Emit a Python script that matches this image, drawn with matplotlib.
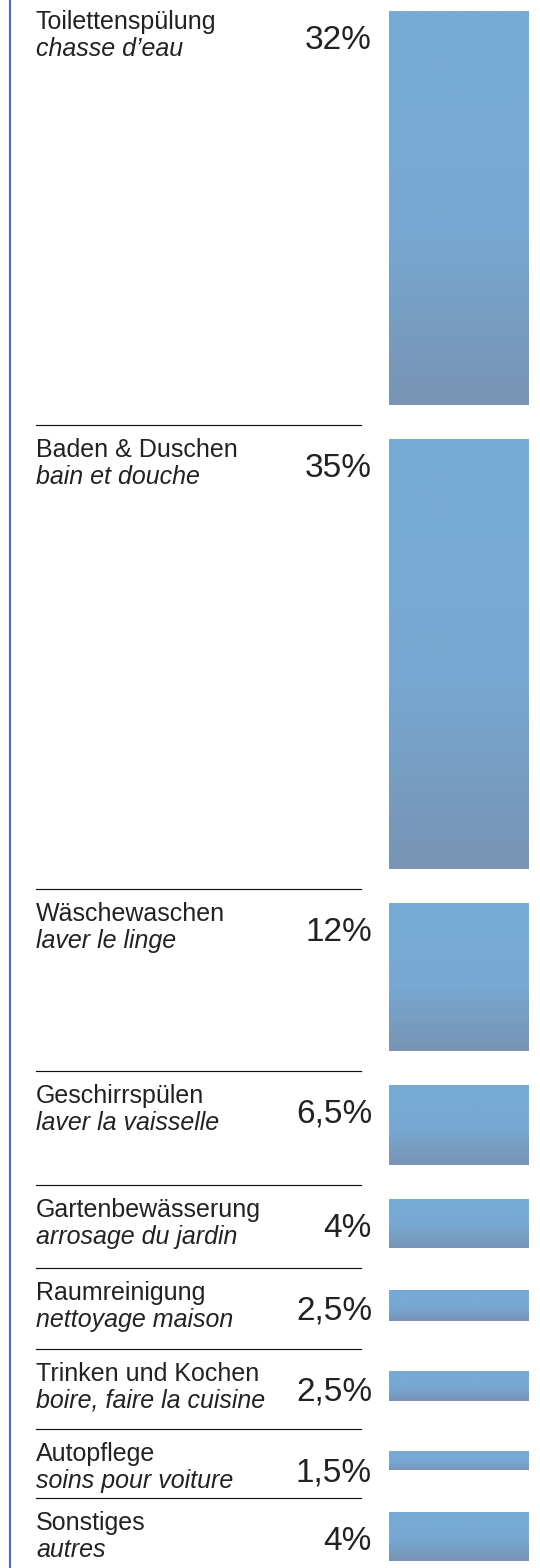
import numpy as np
import matplotlib.pyplot as plt
from matplotlib.colors import LinearSegmentedColormap

# data
labels_de = ['Toilettenspülung', 'Baden & Duschen', 'Wäschewaschen', 'Geschirrspülen',
             'Gartenbewässerung', 'Raumreinigung', 'Trinken und Kochen', 'Autopflege',
             'Sonstiges']
labels_fr = ['chasse d\u2019eau', 'bain et douche', 'laver le linge', 'laver la vaisselle',
             'arrosage du jardin', 'nettoyage maison', 'boire, faire la cuisine',
             'soins pour voiture', 'autres']
values = [32, 35, 12, 6.5, 4, 2.5, 2.5, 1.5, 4]
value_labels = ['32%', '35%', '12%', '6,5%', '4%', '2,5%', '2,5%', '1,5%', '4%']

# layout (pixels)
W, H = 540, 1568
PX_PER_PCT = 12.3
BAR_X0, BAR_X1 = 389, 529
SEP_X0, SEP_X1 = 36, 361
FONT = 'Liberation Sans'
TEXT_COLOR = '#222222'

grad = LinearSegmentedColormap.from_list('bar', ['#76abd6', '#76a8d2', '#7993b3'])

fig = plt.figure(figsize=(W / 100, H / 100), dpi=100, facecolor='white')
ax = fig.add_axes([0, 0, 1, 1])
ax.set_xlim(0, W)
ax.set_ylim(H, 0)
ax.axis('off')

# left rule
ax.axvline(9.5, color='#5a6cb4', linewidth=1.6)

sep = -3.0
for i, v in enumerate(values):
    bar_h = v * PX_PER_PCT
    pad = float(np.clip(81 - bar_h, 34, 50))
    bar_top = sep + pad / 2 - 3

    if i > 0:
        ax.plot([SEP_X0, SEP_X1], [sep, sep], color='#111111', linewidth=0.85)

    bars = ax.bar((BAR_X0 + BAR_X1) / 2, bar_h, bottom=bar_top,
                  width=BAR_X1 - BAR_X0, color='none', edgecolor='none')
    rect = bars[0]
    g = np.linspace(0, 1, 256) ** 1.2
    im = ax.imshow(g.reshape(-1, 1), cmap=grad, aspect='auto',
                   extent=(BAR_X0, BAR_X1, bar_top + bar_h, bar_top),
                   interpolation='bilinear', zorder=2)
    im.set_clip_path(rect)

    ax.text(SEP_X0, sep + 32, labels_de[i], fontsize=18, family=FONT,
            color=TEXT_COLOR, ha='left', va='baseline')
    ax.text(SEP_X0, sep + 59, labels_fr[i], fontsize=18, family=FONT,
            style='italic', color=TEXT_COLOR, ha='left', va='baseline')
    ax.text(372, sep + 52, value_labels[i], fontsize=24, family=FONT,
            color=TEXT_COLOR, ha='right', va='baseline')

    sep += bar_h + pad

ax.set_xlim(0, W)
ax.set_ylim(H, 0)
fig.savefig('out.png', dpi=100, facecolor='white')
